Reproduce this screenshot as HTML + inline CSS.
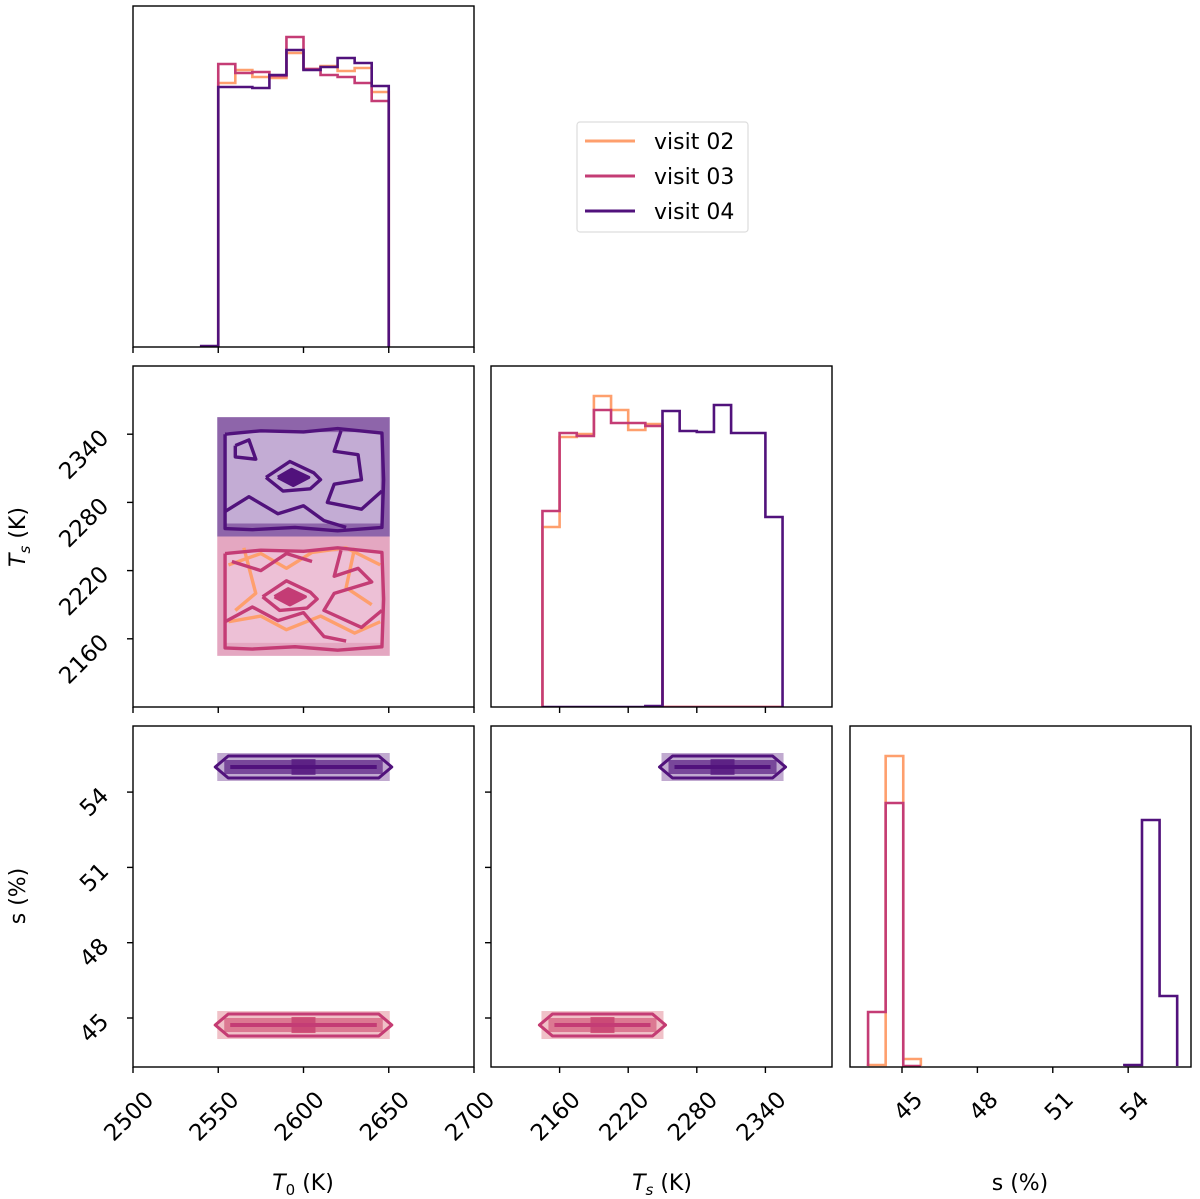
<!DOCTYPE html>
<html><head><meta charset="utf-8">
<style>
html,body{margin:0;padding:0;background:#fff;}
svg{display:block;font-family:"DejaVu Sans","Liberation Sans",sans-serif;}
</style></head>
<body>
<svg id="chart" width="1200" height="1199" viewBox="0 0 1200 1199" xmlns="http://www.w3.org/2000/svg">
<g id="layer"></g>
<g id="legend">
  <rect x="577" y="122" width="171" height="110" rx="3" fill="#fff" stroke="#ddd" stroke-width="1.2"/>
  <g><line x1="585" y1="141" x2="635" y2="141" stroke="#fe9f6d" stroke-width="3"/><text x="654" y="149" font-size="22">visit 02</text></g>
  <g><line x1="585" y1="176" x2="635" y2="176" stroke="#c43c75" stroke-width="3"/><text x="654" y="184" font-size="22">visit 03</text></g>
  <g><line x1="585" y1="211" x2="635" y2="211" stroke="#51127c" stroke-width="3"/><text x="654" y="219" font-size="22">visit 04</text></g>
</g>
</svg>
<script>
// ---- data ----
const seriesNames = ["visit 02","visit 03","visit 04"];
const seriesColors = ["#fe9f6d","#c43c75","#51127c"];
// T0 histogram: bins start 2540, width 10
const t0BinStart = 2540;
const t0BinWidth = 10;
const t0Hist02 = [0,266,279,272,271,296,280,283,278,281,257,0];
const t0Hist03 = [0,285,276,277,273,312,280,274,272,266,248,0];
const t0Hist04 = [3,262,262,261,274,299,279,282,291,286,263,0];
// Ts histogram: bins start 2145, width 15
const tsBinStart = 2145;
const tsBinWidth = 15;
const tsHist02 = [180,270,273,311,297,277,283,0,0,0,0,0,0,0];
const tsHist03 = [196,274,271,297,284,284,281,0,0,0,0,0,0,0];
const tsHist04 = [0,0,0,0,0,0,1,296,276,275,302,274,274,190];
const tsHist04Start = 2145;
// s histogram
const sBinStartLow = 43.65;
const sBinStartHigh = 53.85;
const sBinWidth = 0.7;
const sHist02 = [1,310,7];
const sHist03 = [54,263,0];
const sHist04 = [1,246,70];
// 2D ranges per visit
const t0Range = [2550,2650];
const tsRange02 = [2145,2250];
const tsRange03 = [2145,2250];
const tsRange04 = [2250,2355];
const sCenter02 = 44.72;
const sCenter03 = 44.72;
const sCenter04 = 55.0;
const t0Ticks = [2500,2550,2600,2650,2700];
const tsTicks = [2160,2220,2280,2340];
const sTicks = [45,48,51,54];

// ---- scales ----
const T0X = v => 133 + (v-2500)*341/200;
const TsX = v => 491 + (v-2100)*343/300;
const TsY = v => 707 - (v-2100)*341/300;
const SX = v => 902 + (v-45)*25.13;
const SY = v => 1018 - (v-45)*25.1;

const NS = "http://www.w3.org/2000/svg";
const layer = document.getElementById('layer');
function mk(tag, attrs, parent){
  const e = document.createElementNS(NS, tag);
  for (const k in attrs) e.setAttribute(k, attrs[k]);
  (parent||layer).appendChild(e);
  return e;
}
const panels = [
  {k:"t0-hist", x:133,y:6},
  {k:"t0-ts",x:133,y:366},{k:"ts-hist",x:491,y:366},
  {k:"t0-s",x:133,y:726},{k:"ts-s",x:491,y:726},{k:"s-hist",x:850,y:726}
];
const PW=341, PH=341;
const G = {};
panels.forEach(p=>{
  const g = mk('g',{});
  
  
  const cp = mk('clipPath',{id:'cp-'+p.k}, g);
  mk('rect',{x:p.x,y:p.y,width:PW,height:PH}, cp);
  const inner = mk('g',{'clip-path':'url(#cp-'+p.k+')'}, g);
  G[p.k] = {g, inner, p};
});

// histograms
function stepHist(parent, counts, start, width, xs, base, hscale, color, name){
  let d = "";
  let x0 = xs(start);
  d += "M"+x0+","+base;
  counts.forEach((c,i)=>{
    const xa = xs(start+i*width), xb = xs(start+(i+1)*width);
    const y = base - c*hscale;
    d += " L"+xa+","+y+" L"+xb+","+y;
  });
  d += " L"+xs(start+counts.length*width)+","+base;
  const p = mk('path',{d, fill:'none', stroke:color, 'stroke-width':2.6, 'stroke-linejoin':'miter'}, parent);
  
  
}
stepHist(G["t0-hist"].inner, t0Hist02, t0BinStart, t0BinWidth, T0X, 349, 1, seriesColors[0], 'hist-t0-visit02');
stepHist(G["t0-hist"].inner, t0Hist03, t0BinStart, t0BinWidth, T0X, 349, 1, seriesColors[1], 'hist-t0-visit03');
stepHist(G["t0-hist"].inner, t0Hist04, t0BinStart, t0BinWidth, T0X, 349, 1, seriesColors[2], 'hist-t0-visit04');
stepHist(G["ts-hist"].inner, tsHist02, tsBinStart, tsBinWidth, TsX, 707, 1, seriesColors[0], 'hist-ts-visit02');
stepHist(G["ts-hist"].inner, tsHist03, tsBinStart, tsBinWidth, TsX, 707, 1, seriesColors[1], 'hist-ts-visit03');
stepHist(G["ts-hist"].inner, tsHist04, tsHist04Start, tsBinWidth, TsX, 707, 1, seriesColors[2], 'hist-ts-visit04');
stepHist(G["s-hist"].inner, sHist02, sBinStartLow, sBinWidth, SX, 1066, 1, seriesColors[0], 'hist-s-visit02');
stepHist(G["s-hist"].inner, sHist03, sBinStartLow, sBinWidth, SX, 1066, 1, seriesColors[1], 'hist-s-visit03');
stepHist(G["s-hist"].inner, sHist04, sBinStartHigh, sBinWidth, SX, 1066, 1, seriesColors[2], 'hist-s-visit04');

// 2D T0-Ts blocks
const fillOuter = ["rgba(254,159,109,0.35)","rgba(196,60,117,0.45)","rgba(81,18,124,0.65)"];
const fillInner = ["rgba(254,220,200,0.5)","rgba(240,200,220,0.75)","rgba(205,185,220,0.85)"];
function block2d(parent, t0r, tsr, i, name){
  const x0=T0X(t0r[0]), x1=T0X(t0r[1]), y0=TsY(tsr[1]), y1=TsY(tsr[0]);
  const r = mk('rect',{x:x0-1,y:y0,width:x1-x0+2,height:y1-y0, fill:fillOuter[i]}, parent);
  
  
  const r2 = mk('rect',{x:x0+8,y:y0+15,width:x1-x0-16,height:y1-y0-28, fill:fillInner[i]}, parent);
  
  
}
const gTT = G["t0-ts"].inner;
block2d(gTT, t0Range, tsRange03, 1, 'density-t0-ts-visit03');
block2d(gTT, t0Range, tsRange04, 2, 'density-t0-ts-visit04');

function contour(parent, pts, color, name, dTs, fill){
  const d = pts.map((p,j)=>(j?"L":"M")+T0X(p[0])+","+TsY(p[1]+dTs)).join(" ");
  const e = mk('path',{d, fill: fill||'none', stroke:color, 'stroke-width':3.4, 'stroke-linejoin':'round'}, parent);
  
  
}
const outerC = [[2554,2340],[2575,2343],[2600,2342],[2620,2345],[2646,2341],[2647,2300],[2646,2258],[2620,2255],[2595,2258],[2570,2256],[2554,2257],[2554,2340]];
const lineA = [[2554,2272],[2568,2285],[2585,2270],[2600,2277],[2612,2264],[2625,2258]];
const lineB = [[2622,2343],[2618,2325],[2632,2322],[2634,2300],[2618,2296],[2614,2280],[2634,2274],[2646,2290]];
const lineC = [[2560,2330],[2568,2335],[2572,2318],[2560,2320],[2560,2330]];
const eye1 = [[2578,2302],[2592,2316],[2606,2306],[2610,2300],[2604,2292],[2588,2290],[2578,2302]];
const eye2 = [[2585,2302],[2593,2309],[2603,2302],[2594,2295],[2585,2302]];
[outerC,lineA,lineB,lineC,eye1].forEach((c,j)=>contour(gTT,c,seriesColors[2],'contour-t0-ts-visit04-'+j,0));
contour(gTT,eye2,seriesColors[2],'contour-t0-ts-visit04-core',0,seriesColors[2]);
const orangeLines = [[[2556,2225],[2575,2235],[2590,2222],[2605,2236],[2625,2240],[2645,2225]],[[2556,2175],[2575,2180],[2590,2168],[2610,2180],[2630,2165],[2645,2175]],[[2565,2240],[2572,2200],[2560,2185]],[[2630,2240],[2625,2205],[2640,2190]]];
orangeLines.forEach((c,j)=>contour(gTT,c,seriesColors[0],'contour-t0-ts-visit02-'+j,0));
const outer3 = outerC.map(p=>[p[0],p[1]-105]);
[outer3,
 [[2554,2175],[2570,2188],[2585,2176],[2600,2183],[2612,2162],[2625,2158]],
 [[2622,2238],[2618,2215],[2632,2222],[2640,2210],[2618,2200],[2612,2185],[2634,2170],[2646,2185]],
 [[2558,2228],[2575,2220],[2590,2235],[2605,2228]],
 eye1.map(p=>[p[0]-2,p[1]-105])].forEach((c,j)=>contour(gTT,c,seriesColors[1],'contour-t0-ts-visit03-'+j,0));
contour(gTT,eye2.map(p=>[p[0]-2,p[1]-105]),seriesColors[1],'contour-t0-ts-visit03-core',0,seriesColors[1]);

// bottom row bands
function band(parent, xs, x0v, x1v, sv, i, name){
  const x0=xs(x0v), x1=xs(x1v), yc=SY(sv);
  const s = mk('rect',{x:x0-1,y:yc-14,width:x1-x0+2,height:28, fill:fillOuter[i], opacity:0.55}, parent);
  
  
  const f = mk('rect',{x:x0+6,y:yc-7,width:x1-x0-12,height:14, fill:fillOuter[i]}, parent);
  
  
  const m = mk('rect',{x:(x0+x1)/2-12,y:yc-8,width:24,height:16, fill:seriesColors[i], opacity:0.7}, parent);
  
  
  const d = `M${x0-3},${yc} L${x0+10},${yc-11} L${x1-10},${yc-11} L${x1+3},${yc} L${x1-10},${yc+11} L${x0+10},${yc+11} Z`;
  const c = mk('path',{d, fill:'none', stroke:seriesColors[i], 'stroke-width':3, 'stroke-linejoin':'round'}, parent);
  
  
  const l = mk('line',{x1:x0+12,y1:yc,x2:x1-12,y2:yc, stroke:seriesColors[i], 'stroke-width':4}, parent);
  
  
}
band(G["t0-s"].inner, T0X, t0Range[0], t0Range[1], sCenter02, 0, 'band-t0-s-visit02');
band(G["t0-s"].inner, T0X, t0Range[0], t0Range[1], sCenter03, 1, 'band-t0-s-visit03');
band(G["t0-s"].inner, T0X, t0Range[0], t0Range[1], sCenter04, 2, 'band-t0-s-visit04');
band(G["ts-s"].inner, TsX, tsRange02[0], tsRange02[1], sCenter02, 0, 'band-ts-s-visit02');
band(G["ts-s"].inner, TsX, tsRange03[0], tsRange03[1], sCenter03, 1, 'band-ts-s-visit03');
band(G["ts-s"].inner, TsX, tsRange04[0], tsRange04[1], sCenter04, 2, 'band-ts-s-visit04');

// frames
panels.forEach(p=>{
  const f = mk('rect',{x:p.x,y:p.y,width:PW,height:PH,fill:'none',stroke:'#000','stroke-width':1.4}, G[p.k].g);
  
  
});

// ticks
function xTicks(p, ticks, xs, labels, nm){
  ticks.forEach(t=>{
    const x = xs(t), yb = p.y+PH;
    const l = mk('line',{x1:x,y1:yb,x2:x,y2:yb+6,stroke:'#000','stroke-width':1.4});
    
    
    if(labels){
      const tx = mk('text',{x:x+22,y:yb+34,'text-anchor':'end','font-size':23,transform:`rotate(-45 ${x+22} ${yb+34})`});
      tx.textContent = t;
      
      
    }
  });
}
function yTicks(p, ticks, ys, labels, nm){
  ticks.forEach(t=>{
    const y = ys(t), xl = p.x;
    const l = mk('line',{x1:xl-6,y1:y,x2:xl,y2:y,stroke:'#000','stroke-width':1.4});
    
    
    if(labels){
      const tx = mk('text',{x:xl-23,y:y+5,'text-anchor':'end','font-size':23,transform:`rotate(-45 ${xl-23} ${y+5})`});
      tx.textContent = t;
      
      
    }
  });
}
const P = k=>G[k].p;
xTicks(P("t0-hist"), t0Ticks, T0X, false, 'x-t0-top');
xTicks(P("t0-ts"), t0Ticks, T0X, false, 'x-t0-mid');
xTicks(P("t0-s"), t0Ticks, T0X, true, 'x-t0');
xTicks(P("ts-hist"), tsTicks, TsX, false, 'x-ts-mid');
xTicks(P("ts-s"), tsTicks, TsX, true, 'x-ts');
xTicks(P("s-hist"), sTicks, SX, true, 'x-s');
yTicks(P("t0-ts"), tsTicks, TsY, true, 'y-ts');
yTicks(P("t0-s"), sTicks, SY, true, 'y-s');
yTicks(P("ts-s"), sTicks, SY, false, 'y-s-inner');

// axis titles
function title(x,y,html,rot,nm){
  const t = mk('text',{x,y,'text-anchor':'middle','font-size':22});
  if(rot) t.setAttribute('transform',`rotate(-90 ${x} ${y})`);
  t.innerHTML = html;
  
  
}
title(303,1190,'<tspan font-style="italic">T</tspan><tspan font-size="15" dy="5">0</tspan><tspan dy="-5"> (K)</tspan>',false,'x-axis-title-t0');
title(662,1190,'<tspan font-style="italic">T</tspan><tspan font-size="15" dy="5" font-style="italic">s</tspan><tspan dy="-5"> (K)</tspan>',false,'x-axis-title-ts');
title(1020,1190,'s (%)',false,'x-axis-title-s');
title(25,537,'<tspan font-style="italic">T</tspan><tspan font-size="15" dy="5" font-style="italic">s</tspan><tspan dy="-5"> (K)</tspan>',true,'y-axis-title-ts');
title(25,896,'s (%)',true,'y-axis-title-s');
</script>
</body></html>
